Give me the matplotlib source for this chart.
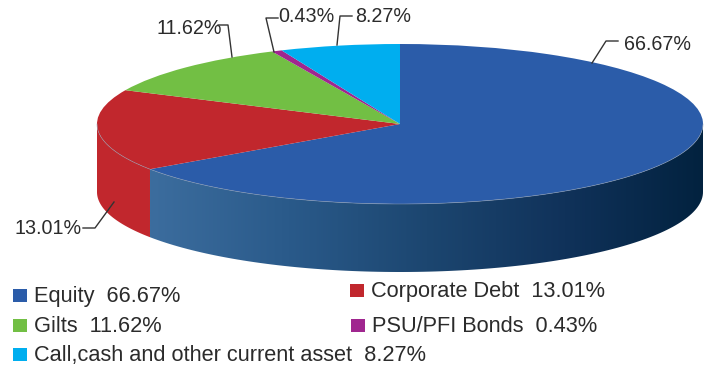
import numpy as np
import matplotlib
matplotlib.use("Agg")
import matplotlib.pyplot as plt
from matplotlib.colors import LinearSegmentedColormap
from matplotlib.patches import Polygon, Rectangle, Wedge
from matplotlib.transforms import Affine2D

plt.rcParams['font.family'] = ['Liberation Sans', 'DejaVu Sans']

# --- chart data ---
categories = ["Equity", "Corporate Debt", "Gilts", "PSU/PFI Bonds", "Call,cash and other current asset"]
shares = [66.67, 13.01, 11.62, 0.43, 8.27]
# sweep of each slice as drawn (degrees clockwise from 12 o'clock)
drawn_sweep = [235.6, 59.4, 40.0, 2.0, 23.0]
colors = ["#2b5ca9", "#c1272d", "#72bf44", "#a0268f", "#00aeef"]
wall_stops = ["#3c6d9e", "#2a5a8a", "#1c4670", "#10325a", "#02223f"]

# pie geometry in pixels
W, H = 716, 366
cx, cy, rx, ry, depth = 400, H - 124, 303, 80, 68

fig = plt.figure(figsize=(W / 100, H / 100), dpi=100)
ax = fig.add_axes([0, 0, 1, 1])
ax.set_xlim(0, W)
ax.set_ylim(0, H)
ax.axis("off")


def rim(theta):
    t = np.radians(theta)
    return cx + rx * np.cos(t), cy + ry * np.sin(t)


def wall_points(t0, t1):
    xs, ys = rim(np.linspace(t0, t1, 120))
    top = np.column_stack([xs, ys])
    bottom = np.column_stack([xs, ys - depth])[::-1]
    return np.vstack([top, bottom])


# slice angles, math convention
ends = 90 - np.cumsum(drawn_sweep)
starts = np.concatenate([[90], ends[:-1]])

# front wall: blue part with gradient, red part flat
equity_start = ends[0] + 360
red_wall = Polygon(wall_points(180, equity_start), closed=True, fc=colors[1], ec="none", zorder=1)
ax.add_patch(red_wall)

blue_wall = Polygon(wall_points(equity_start, 360), closed=True, fc="none", ec="none", zorder=2)
ax.add_patch(blue_wall)
cmap = LinearSegmentedColormap.from_list("wall", wall_stops)
im = ax.imshow(np.linspace(0, 1, 256).reshape(1, -1), cmap=cmap, aspect="auto",
               extent=[rim(equity_start)[0], cx + rx, cy - ry - depth, cy], zorder=2)
im.set_clip_path(blue_wall)
ax.set_xlim(0, W)
ax.set_ylim(0, H)

# top face
face = Affine2D().scale(rx, ry).translate(cx, cy) + ax.transData
for t_start, t_end, c in zip(starts, ends, colors):
    ax.add_patch(Wedge((0, 0), 1, t_end, t_start, fc=c, ec="none", transform=face, zorder=3))

# thin light edge where the top face meets the wall
rim_x, rim_y = rim(np.linspace(180, 360, 200))
ax.plot(rim_x, rim_y, color="#8c9bb0", lw=0.5, alpha=0.7, zorder=4)

# value labels with leader lines
label_pos = [(624, 44), (15, 228), (156, 28), (278, 17), (355, 17)]
leaders = [
    [(592, 63), (606, 41), (618, 41)],
    [(114, 202), (95, 228), (83, 228)],
    [(232, 57), (228, 25), (218, 25)],
    [(274, 52), (266, 18), (278, 18)],
    [(337, 45), (340, 16), (352, 16)],
]
for v, (lx, ly), pts in zip(shares, label_pos, leaders):
    ax.text(lx, H - ly, f"{v:.2f}%", fontsize=14.2, color="#2b2b2b", ha="left", va="center", zorder=5)
    ax.plot([p[0] for p in pts], [H - p[1] for p in pts], color="#333333", lw=1.0, zorder=4)

# legend drawn by hand because of its uneven layout
legend_x = [13, 350, 13, 351, 13]
legend_base = [302, 297, 332, 332, 361]
for name, v, c, lx, ly in zip(categories, shares, colors, legend_x, legend_base):
    ax.add_patch(Rectangle((lx, H - ly), 13.5, 13.5, fc=c, ec="none", zorder=5))
    ax.text(lx + 21, H - ly, f"{name}  {v:.2f}%", fontsize=15.7, color="#2b2b2b",
            ha="left", va="baseline", zorder=5)

fig.savefig("out.png", dpi=100)
